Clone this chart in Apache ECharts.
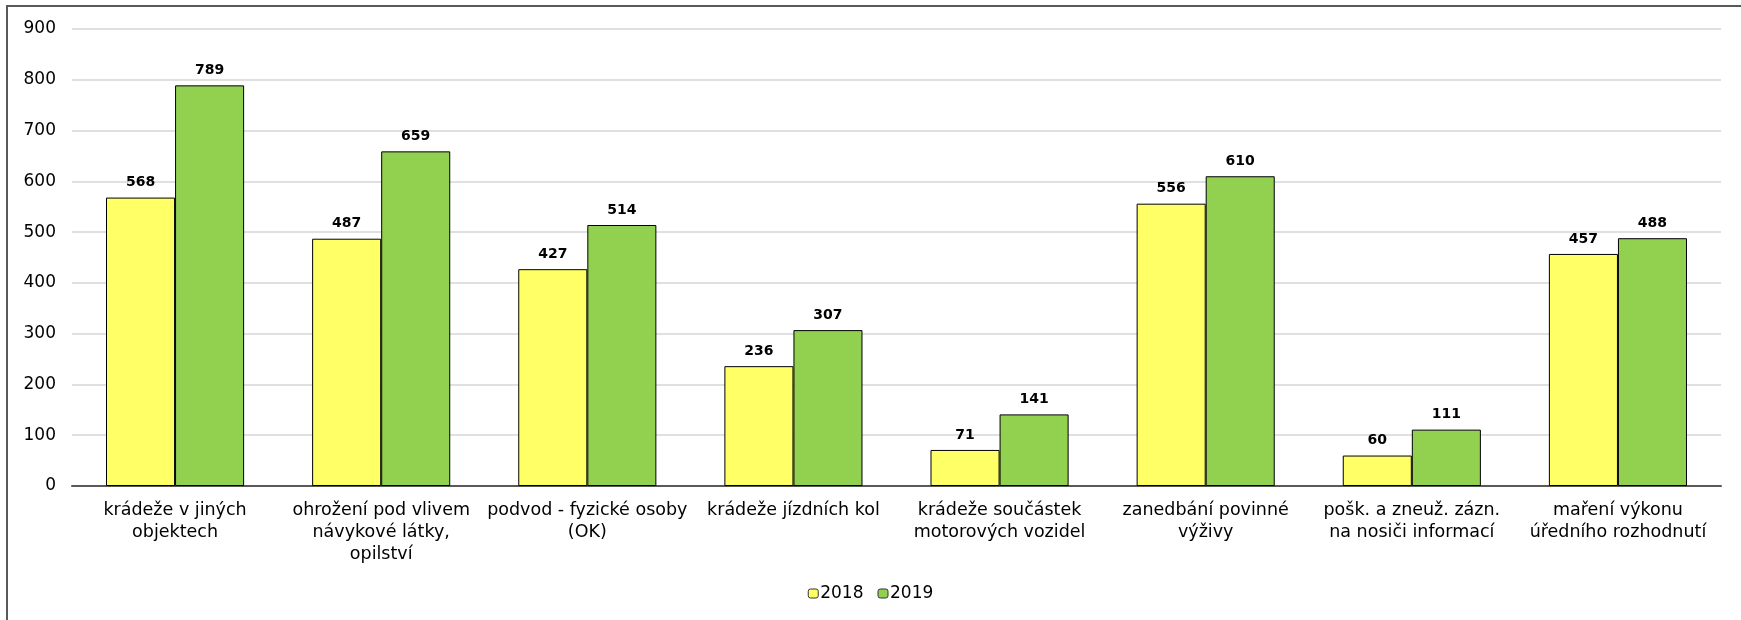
<!DOCTYPE html>
<html><head><meta charset="utf-8">
<script src="https://cdn.jsdelivr.net/npm/echarts@6/dist/echarts.min.js"></script>
<style>html,body{margin:0;padding:0;background:#fff}#c{width:1741px;height:620px}</style>
</head><body><div id="c"></div>
<script>
const categories = [
  "krádeže v jiných\nobjektech",
  "ohrožení pod vlivem\nnávykové látky,\nopilství",
  "podvod - fyzické osoby\n(OK)",
  "krádeže jízdních kol",
  "krádeže součástek\nmotorových vozidel",
  "zanedbání povinné\nvýživy",
  "pošk. a zneuž. zázn.\nna nosiči informací",
  "maření výkonu\núředního rozhodnutí"
];
const values2018 = [568, 487, 427, 236, 71, 556, 60, 457];
const values2019 = [789, 659, 514, 307, 141, 610, 111, 488];
const seriesNames = ["2018", "2019"];

const chart = echarts.init(document.getElementById('c'), null, {renderer: 'canvas'});
const font = 'DejaVu Sans, Liberation Sans, Arial, sans-serif';
const labelCfg = {show: true, position: 'top', distance: 8, fontFamily: font, fontSize: 14, fontWeight: 'bold', color: '#000'};
chart.setOption({
  animation: false,
  graphic: [{type: 'rect', shape: {x: 7, y: 6, width: 1780, height: 700}, style: {fill: 'none', stroke: '#595959', lineWidth: 2}, silent: true}],
  grid: {left: 72, right: 20, top: 29, bottom: 134},
  legend: {bottom: 13, left: 'center', itemWidth: 10, itemHeight: 9, itemGap: 14,
    textStyle: {fontFamily: font, fontSize: 17, color: '#000', padding: [0,0,0,-3]},
    data: seriesNames.map(n => ({name: n, itemStyle: {borderColor: '#333', borderWidth: 1}}))},
  xAxis: {type: 'category', data: categories,
    axisLine: {lineStyle: {color: '#595959', width: 2}},
    axisTick: {show: false},
    axisLabel: {interval: 0, margin: 13, fontFamily: font, fontSize: 17.5, color: '#000', lineHeight: 22}},
  yAxis: {type: 'value', min: 0, max: 900, interval: 100,
    axisLine: {show: false}, axisTick: {show: false},
    axisLabel: {margin: 16, fontFamily: font, fontSize: 17, color: '#000'},
    splitLine: {lineStyle: {color: '#e0e0e0', width: 2}}},
  series: [
    {name: seriesNames[0], type: 'bar', data: values2018, barGap: '0%', barCategoryGap: '33%',
     itemStyle: {color: '#FFFF66', borderColor: '#000', borderWidth: 1}, label: labelCfg},
    {name: seriesNames[1], type: 'bar', data: values2019, barGap: '0%', barCategoryGap: '33%',
     itemStyle: {color: '#92D050', borderColor: '#000', borderWidth: 1}, label: labelCfg}
  ]
});
</script></body></html>
